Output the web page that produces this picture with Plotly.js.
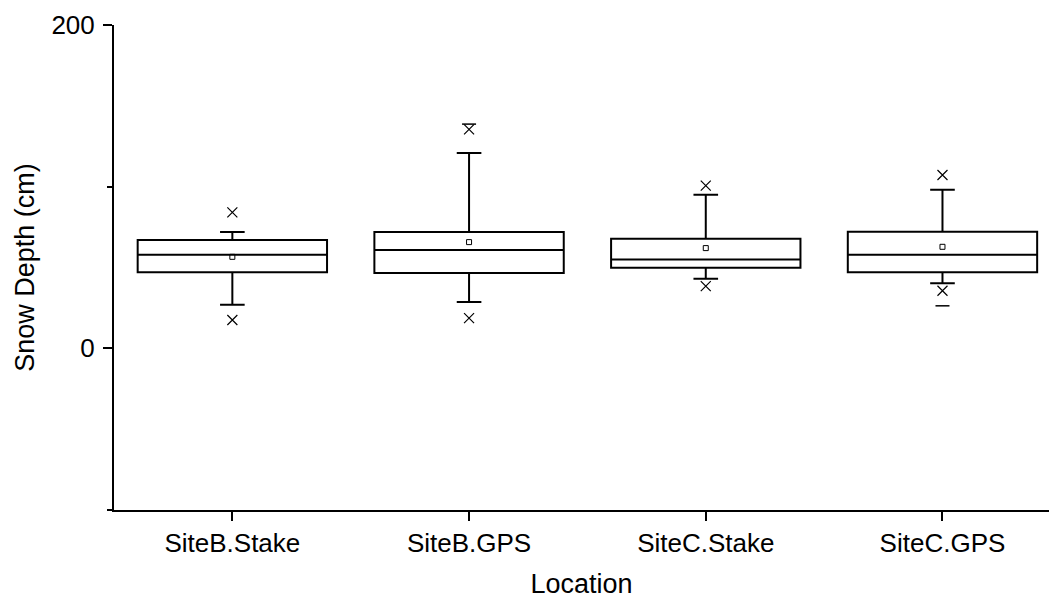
<!DOCTYPE html>
<html>
<head>
<meta charset="utf-8">
<script src="https://cdn.plot.ly/plotly-3.0.1.min.js"></script>
<style>html,body{margin:0;padding:0;background:#fff;}#chart{width:1049px;height:599px;}</style>
</head>
<body>
<div id="chart"></div>
<script>
// Data (Snow Depth, cm)
const categories = ["SiteB.Stake", "SiteB.GPS", "SiteC.Stake", "SiteC.GPS"];
const q1 = [47.0, 46.6, 49.8, 47.0];
const medians = [57.9, 60.8, 55.0, 57.9];
const q3 = [67.0, 71.9, 67.8, 72.1];
const whiskerLow = [27.0, 28.6, 43.0, 40.2];
const whiskerHigh = [71.9, 120.8, 95.0, 98.1];
const means = [56.6, 65.7, 62.0, 62.8];
const p1 = [17.5, 18.7, 38.5, 35.6];
const p99 = [84.1, 135.4, 100.6, 107.2];
const minima = [null, null, null, 26.3];
const maxima = [null, 138.7, null, null];

const FONT = "Liberation Sans, Arial, Helvetica, sans-serif";

const traces = [
  {
    type: "box",
    x: categories,
    q1: q1,
    median: medians,
    q3: q3,
    lowerfence: whiskerLow,
    upperfence: whiskerHigh,
    boxpoints: false,
    whiskerwidth: 0.13,
    fillcolor: "rgba(255,255,255,0)",
    line: { color: "#000", width: 2 },
    hoverinfo: "skip",
    showlegend: false
  },
  {
    type: "scatter", mode: "markers", x: categories, y: means,
    marker: { symbol: "square-open", size: 5, color: "#000", line: { width: 1, color: "#000" } },
    showlegend: false, hoverinfo: "skip"
  },
  {
    type: "scatter", mode: "markers", x: categories.concat(categories), y: p1.concat(p99),
    marker: { symbol: "x-thin-open", size: 10, color: "#000", line: { width: 1.2, color: "#000" } },
    showlegend: false, hoverinfo: "skip"
  },
  {
    type: "scatter", mode: "markers", x: categories.concat(categories), y: minima.concat(maxima),
    marker: { symbol: "line-ew-open", size: 10, color: "#000", line: { width: 1.5, color: "#000" } },
    showlegend: false, hoverinfo: "skip"
  }
];

const layout = {
  width: 1049, height: 599,
  margin: { l: 114, r: 0, t: 25, b: 89 },
  paper_bgcolor: "#fff", plot_bgcolor: "#fff",
  font: { family: FONT, size: 26, color: "#000" },
  boxgap: 0.2,
  boxgroupgap: 0,
  xaxis: {
    type: "category",
    range: [-0.5, 3.45],
    showline: true, linecolor: "#000", linewidth: 2,
    ticks: "outside", ticklen: 9, tickwidth: 2, tickcolor: "#000",
    showgrid: false, zeroline: false,
    tickfont: { family: FONT, size: 26, color: "#000" },
    title: { text: "Location", font: { family: FONT, size: 27, color: "#000" }, standoff: 22 },
    automargin: false
  },
  yaxis: {
    range: [-100, 200],
    tick0: 0, dtick: 200,
    showline: true, linecolor: "#000", linewidth: 2,
    ticks: "outside", ticklen: 9, tickwidth: 2, tickcolor: "#000",
    minor: { dtick: 100, tick0: 0, ticks: "outside", ticklen: 5, tickwidth: 2, tickcolor: "#000", showgrid: false },
    showgrid: false, zeroline: false,
    ticklabelstandoff: 3,
    tickfont: { family: FONT, size: 26, color: "#000" },
    title: { text: "Snow Depth (cm)", font: { family: FONT, size: 27, color: "#000" }, standoff: 9 },
    automargin: false
  }
};

Plotly.newPlot("chart", traces, layout, { staticPlot: true, displayModeBar: false });
</script>
</body>
</html>
